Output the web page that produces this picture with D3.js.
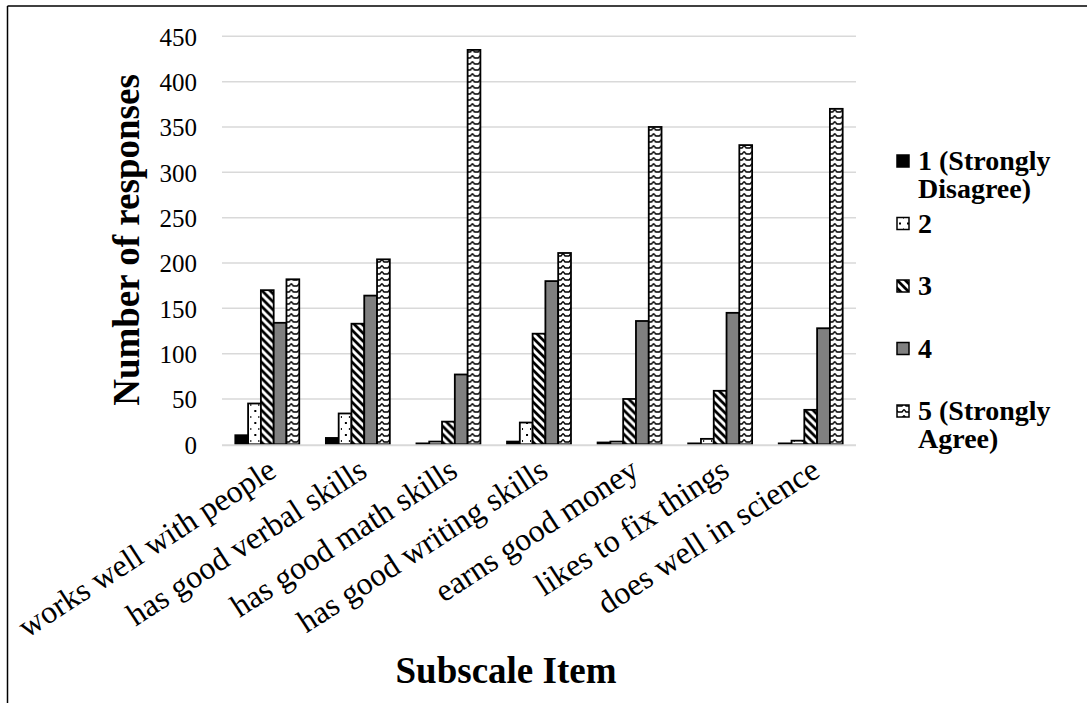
<!DOCTYPE html>
<html>
<head>
<meta charset="utf-8">
<script src="https://cdn.jsdelivr.net/npm/d3@7"></script>
<style>
  html, body { margin: 0; padding: 0; background: #fff; }
  svg { display: block; }
  text { font-family: "Liberation Serif", "DejaVu Serif", serif; fill: #000; }
</style>
</head>
<body>
<script>
// ---------- data ----------
const categories = [
  "works well with people",
  "has good verbal skills",
  "has good math skills",
  "has good writing skills",
  "earns good money",
  "likes to fix things",
  "does well in science"
];
const seriesNames = ["1 (Strongly Disagree)", "2", "3", "4", "5 (Strongly Agree)"];
const legendLines = [["1 (Strongly", "Disagree)"], ["2"], ["3"], ["4"], ["5 (Strongly", "Agree)"]];
const s1 = [10, 7, 1, 3, 2, 1, 1];
const s2 = [45, 34, 3, 24, 3, 6, 4];
const s3 = [170, 133, 25, 122, 50, 59, 38];
const s4 = [134, 164, 77, 180, 136, 145, 128];
const s5 = [182, 204, 435, 211, 350, 330, 370];
const seriesValues = [s1, s2, s3, s4, s5];
const yTicks = [0, 50, 100, 150, 200, 250, 300, 350, 400, 450];

// ---------- layout ----------
const W = 1087, H = 703;
const FONT = "'Liberation Serif', 'DejaVu Serif', serif";
const svg = d3.select("body").append("svg").attr("width", W).attr("height", H);
const defs = svg.append("defs");

// patterns
const p2 = defs.append("pattern").attr("id", "pat2").attr("patternUnits", "userSpaceOnUse")
  .attr("width", 8).attr("height", 12);
p2.append("rect").attr("width", 8).attr("height", 12).attr("fill", "#fff");
p2.append("rect").attr("x", 3).attr("y", 2).attr("width", 2).attr("height", 2).attr("fill", "#000");
p2.append("rect").attr("x", 7).attr("y", 8).attr("width", 2).attr("height", 2).attr("fill", "#000");

const p3 = defs.append("pattern").attr("id", "pat3").attr("patternUnits", "userSpaceOnUse")
  .attr("width", 8).attr("height", 8);
p3.append("rect").attr("width", 8).attr("height", 8).attr("fill", "#fff");
p3.append("path").attr("d", "M-2,2 L2,-2 M0,0 L8,8 M6,10 L10,6 M-4,4 L4,12 M4,-4 L12,4")
  .attr("stroke", "#000").attr("stroke-width", 2.8).attr("fill", "none");

const p5 = defs.append("pattern").attr("id", "pat5").attr("patternUnits", "userSpaceOnUse")
  .attr("width", 8).attr("height", 6);
p5.append("rect").attr("width", 8).attr("height", 6).attr("fill", "#fff");
p5.append("path").attr("d", "M0,1.5 L2,4 L6,4 L8,1.5")
  .attr("stroke", "#000").attr("stroke-width", 1.4).attr("fill", "none");

const fills = ["#000", "url(#pat2)", "url(#pat3)", "#808080", "url(#pat5)"];

// frame
svg.append("line").attr("x1", 7.5).attr("x2", W).attr("y1", 6).attr("y2", 6)
  .attr("stroke", "#000").attr("stroke-width", 1.5);
svg.append("line").attr("x1", 7.5).attr("x2", 7.5).attr("y1", 6).attr("y2", H)
  .attr("stroke", "#000").attr("stroke-width", 1.5);

// scales
const x = d3.scaleBand().domain(categories).range([222, 856]).paddingInner(0).paddingOuter(0);
const y = d3.scaleLinear().domain([0, 450]).range([444.3, 36.3]);
const groupW = x.bandwidth() * 0.706;
const x1 = d3.scaleBand().domain(d3.range(seriesNames.length)).range([0, groupW]);

// gridlines
svg.append("g").selectAll("line").data(yTicks.filter(d => d > 0)).join("line")
  .attr("x1", 222).attr("x2", 856)
  .attr("y1", d => y(d)).attr("y2", d => y(d))
  .attr("stroke", "#d9d9d9").attr("stroke-width", 1.5);

// y axis
const yAxis = svg.append("g").attr("transform", "translate(222,0)")
  .call(d3.axisLeft(y).tickValues(yTicks).tickSize(0).tickPadding(25).tickFormat(d3.format("d")));
yAxis.attr("font-family", null);
yAxis.select(".domain").remove();
yAxis.selectAll("text").attr("font-size", 25).attr("dy", "0.36em")
  .style("font-family", FONT);

// bars
const groups = svg.append("g").selectAll("g").data(categories).join("g")
  .attr("transform", d => `translate(${x(d) + (x.bandwidth() - groupW) / 2},0)`);
groups.selectAll("rect").data((c, ci) => seriesValues.map((s, si) => ({ si, v: s[ci] }))).join("rect")
  .attr("x", d => x1(d.si))
  .attr("width", x1.bandwidth())
  .attr("y", d => y(d.v))
  .attr("height", d => y(0) - y(d.v))
  .attr("fill", d => fills[d.si])
  .attr("stroke", "#000").attr("stroke-width", 1.8);

// baseline
svg.append("line").attr("x1", 222).attr("x2", 856).attr("y1", y(0) + 1).attr("y2", y(0) + 1)
  .attr("stroke", "#d9d9d9").attr("stroke-width", 2);

// x labels
const xAxis = svg.append("g").attr("transform", `translate(0,${y(0)})`)
  .call(d3.axisBottom(x).tickSize(0).tickPadding(0));
xAxis.attr("font-family", null);
xAxis.select(".domain").remove();
xAxis.selectAll(".tick").each(function (d) {
  const t = d3.select(this).select("text");
  t.attr("text-anchor", "end").attr("font-size", 32).attr("dy", null).attr("y", null)
    .attr("transform", "translate(11,31) rotate(-33)")
    .style("font-family", FONT);
});

// axis titles
svg.append("text").attr("transform", "translate(139,240) rotate(-90)")
  .attr("text-anchor", "middle").attr("font-size", 37).attr("font-weight", "bold")
  .style("font-family", FONT)
  .text("Number of responses");
svg.append("text").attr("x", 506).attr("y", 683)
  .attr("text-anchor", "middle").attr("font-size", 37).attr("font-weight", "bold")
  .style("font-family", FONT)
  .text("Subscale Item");

// legend
const legY = d3.scalePoint().domain(d3.range(seriesNames.length)).range([170, 420]);
const leg = svg.append("g").selectAll("g").data(seriesNames).join("g")
  .attr("transform", (d, i) => `translate(0,${legY(i)})`);
leg.append("rect").attr("x", 897).attr("y", -15).attr("width", 12).attr("height", 12)
  .attr("fill", (d, i) => fills[i]).attr("stroke", "#000").attr("stroke-width", 1.5);
leg.append("text").attr("x", 918).attr("font-size", 28).attr("font-weight", "bold")
  .style("font-family", FONT)
  .selectAll("tspan").data((d, i) => legendLines[i]).join("tspan")
  .attr("x", 918).attr("dy", (d, j) => j === 0 ? 0 : 28).text(d => d);
</script>
</body>
</html>
